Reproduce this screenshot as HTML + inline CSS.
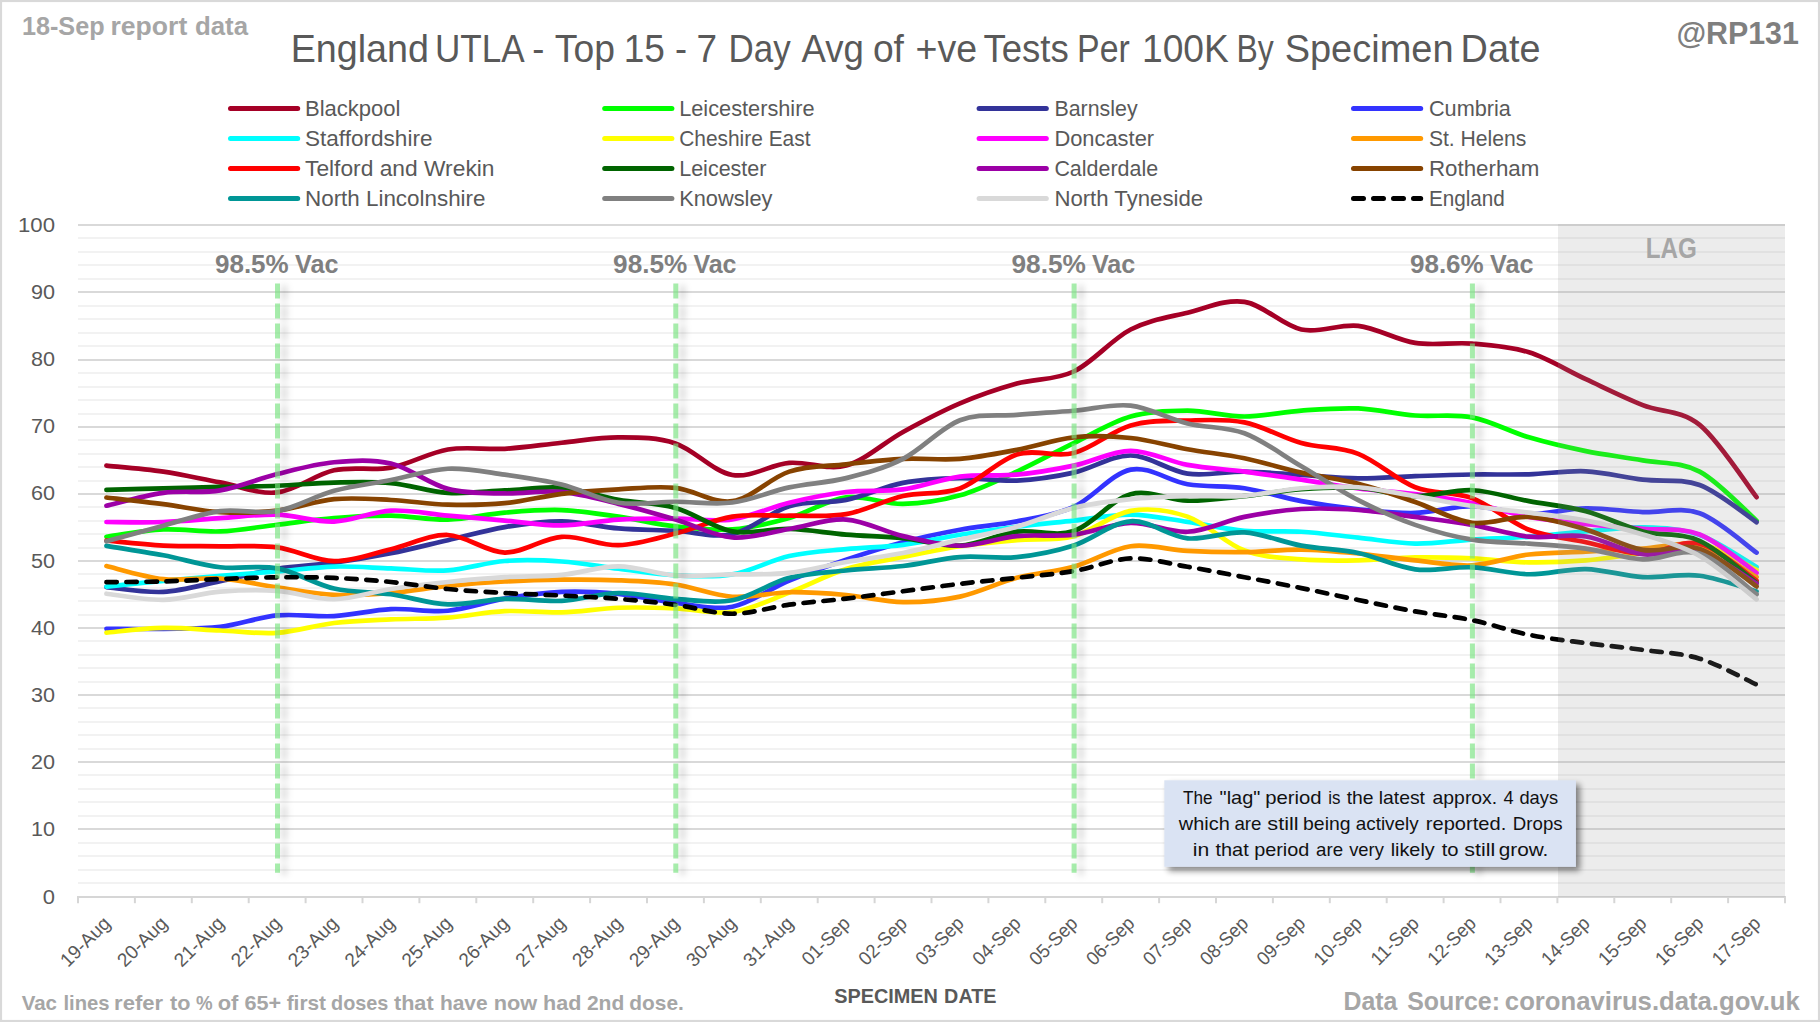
<!DOCTYPE html>
<html lang="en"><head><meta charset="utf-8"><title>England UTLA - Top 15 - 7 Day Avg of +ve Tests Per 100K By Specimen Date</title>
<style>
html,body{margin:0;padding:0;background:#fff;}
body{width:1820px;height:1022px;overflow:hidden;}
svg{display:block;}
text{font-family:"Liberation Sans", Arial, sans-serif;}
.t{fill:#595959;}
.b{font-weight:bold;}
</style></head><body>
<svg width="1820" height="1022" viewBox="0 0 1820 1022">
<defs>
<filter id="sh" x="-10%" y="-20%" width="125%" height="150%"><feGaussianBlur in="SourceAlpha" stdDeviation="3.3"/><feOffset dx="4.2" dy="4.2" result="o"/><feComponentTransfer><feFuncA type="linear" slope="0.48"/></feComponentTransfer><feMerge><feMergeNode/><feMergeNode in="SourceGraphic"/></feMerge></filter>
<filter id="vs" filterUnits="userSpaceOnUse" x="0" y="260" width="1820" height="640"><feGaussianBlur stdDeviation="3.1 3.5"/></filter>
</defs>
<rect x="0" y="0" width="1820" height="1022" fill="#ffffff"/>
<rect x="1" y="1" width="1818" height="1020" fill="none" stroke="#d9d9d9" stroke-width="2.2"/>
<g stroke="#f2f2f2" stroke-width="2">
<line x1="78.0" x2="1785.0" y1="883" y2="883"/>
<line x1="78.0" x2="1785.0" y1="870" y2="870"/>
<line x1="78.0" x2="1785.0" y1="856" y2="856"/>
<line x1="78.0" x2="1785.0" y1="843" y2="843"/>
<line x1="78.0" x2="1785.0" y1="816" y2="816"/>
<line x1="78.0" x2="1785.0" y1="802" y2="802"/>
<line x1="78.0" x2="1785.0" y1="789" y2="789"/>
<line x1="78.0" x2="1785.0" y1="775" y2="775"/>
<line x1="78.0" x2="1785.0" y1="749" y2="749"/>
<line x1="78.0" x2="1785.0" y1="735" y2="735"/>
<line x1="78.0" x2="1785.0" y1="722" y2="722"/>
<line x1="78.0" x2="1785.0" y1="708" y2="708"/>
<line x1="78.0" x2="1785.0" y1="682" y2="682"/>
<line x1="78.0" x2="1785.0" y1="668" y2="668"/>
<line x1="78.0" x2="1785.0" y1="655" y2="655"/>
<line x1="78.0" x2="1785.0" y1="641" y2="641"/>
<line x1="78.0" x2="1785.0" y1="615" y2="615"/>
<line x1="78.0" x2="1785.0" y1="601" y2="601"/>
<line x1="78.0" x2="1785.0" y1="588" y2="588"/>
<line x1="78.0" x2="1785.0" y1="574" y2="574"/>
<line x1="78.0" x2="1785.0" y1="548" y2="548"/>
<line x1="78.0" x2="1785.0" y1="534" y2="534"/>
<line x1="78.0" x2="1785.0" y1="521" y2="521"/>
<line x1="78.0" x2="1785.0" y1="507" y2="507"/>
<line x1="78.0" x2="1785.0" y1="481" y2="481"/>
<line x1="78.0" x2="1785.0" y1="467" y2="467"/>
<line x1="78.0" x2="1785.0" y1="454" y2="454"/>
<line x1="78.0" x2="1785.0" y1="440" y2="440"/>
<line x1="78.0" x2="1785.0" y1="414" y2="414"/>
<line x1="78.0" x2="1785.0" y1="400" y2="400"/>
<line x1="78.0" x2="1785.0" y1="387" y2="387"/>
<line x1="78.0" x2="1785.0" y1="373" y2="373"/>
<line x1="78.0" x2="1785.0" y1="346" y2="346"/>
<line x1="78.0" x2="1785.0" y1="333" y2="333"/>
<line x1="78.0" x2="1785.0" y1="319" y2="319"/>
<line x1="78.0" x2="1785.0" y1="306" y2="306"/>
<line x1="78.0" x2="1785.0" y1="279" y2="279"/>
<line x1="78.0" x2="1785.0" y1="265" y2="265"/>
<line x1="78.0" x2="1785.0" y1="252" y2="252"/>
<line x1="78.0" x2="1785.0" y1="238" y2="238"/>
</g>
<g stroke="#d9d9d9" stroke-width="2">
<line x1="78.0" x2="1785.0" y1="829" y2="829"/>
<line x1="78.0" x2="1785.0" y1="762" y2="762"/>
<line x1="78.0" x2="1785.0" y1="695" y2="695"/>
<line x1="78.0" x2="1785.0" y1="628" y2="628"/>
<line x1="78.0" x2="1785.0" y1="561" y2="561"/>
<line x1="78.0" x2="1785.0" y1="494" y2="494"/>
<line x1="78.0" x2="1785.0" y1="427" y2="427"/>
<line x1="78.0" x2="1785.0" y1="360" y2="360"/>
<line x1="78.0" x2="1785.0" y1="292" y2="292"/>
<line x1="78.0" x2="1785.0" y1="225" y2="225"/>
</g>
<g stroke="#d6d6d6" stroke-width="2">
<line x1="77.0" x2="1786.0" y1="897.00" y2="897.00"/>
<line x1="78.00" x2="78.00" y1="897.00" y2="903.20"/>
<line x1="134.90" x2="134.90" y1="897.00" y2="903.20"/>
<line x1="191.80" x2="191.80" y1="897.00" y2="903.20"/>
<line x1="248.70" x2="248.70" y1="897.00" y2="903.20"/>
<line x1="305.60" x2="305.60" y1="897.00" y2="903.20"/>
<line x1="362.50" x2="362.50" y1="897.00" y2="903.20"/>
<line x1="419.40" x2="419.40" y1="897.00" y2="903.20"/>
<line x1="476.30" x2="476.30" y1="897.00" y2="903.20"/>
<line x1="533.20" x2="533.20" y1="897.00" y2="903.20"/>
<line x1="590.10" x2="590.10" y1="897.00" y2="903.20"/>
<line x1="647.00" x2="647.00" y1="897.00" y2="903.20"/>
<line x1="703.90" x2="703.90" y1="897.00" y2="903.20"/>
<line x1="760.80" x2="760.80" y1="897.00" y2="903.20"/>
<line x1="817.70" x2="817.70" y1="897.00" y2="903.20"/>
<line x1="874.60" x2="874.60" y1="897.00" y2="903.20"/>
<line x1="931.50" x2="931.50" y1="897.00" y2="903.20"/>
<line x1="988.40" x2="988.40" y1="897.00" y2="903.20"/>
<line x1="1045.30" x2="1045.30" y1="897.00" y2="903.20"/>
<line x1="1102.20" x2="1102.20" y1="897.00" y2="903.20"/>
<line x1="1159.10" x2="1159.10" y1="897.00" y2="903.20"/>
<line x1="1216.00" x2="1216.00" y1="897.00" y2="903.20"/>
<line x1="1272.90" x2="1272.90" y1="897.00" y2="903.20"/>
<line x1="1329.80" x2="1329.80" y1="897.00" y2="903.20"/>
<line x1="1386.70" x2="1386.70" y1="897.00" y2="903.20"/>
<line x1="1443.60" x2="1443.60" y1="897.00" y2="903.20"/>
<line x1="1500.50" x2="1500.50" y1="897.00" y2="903.20"/>
<line x1="1557.40" x2="1557.40" y1="897.00" y2="903.20"/>
<line x1="1614.30" x2="1614.30" y1="897.00" y2="903.20"/>
<line x1="1671.20" x2="1671.20" y1="897.00" y2="903.20"/>
<line x1="1728.10" x2="1728.10" y1="897.00" y2="903.20"/>
<line x1="1785.00" x2="1785.00" y1="897.00" y2="903.20"/>
</g>
<g class="t" font-size="20" text-anchor="end">
<text x="55.0" y="903.5" textLength="12.2" lengthAdjust="spacingAndGlyphs">0</text>
<text x="55.0" y="836.3" textLength="24.0" lengthAdjust="spacingAndGlyphs">10</text>
<text x="55.0" y="769.1" textLength="24.0" lengthAdjust="spacingAndGlyphs">20</text>
<text x="55.0" y="701.9" textLength="24.0" lengthAdjust="spacingAndGlyphs">30</text>
<text x="55.0" y="634.7" textLength="24.0" lengthAdjust="spacingAndGlyphs">40</text>
<text x="55.0" y="567.5" textLength="24.0" lengthAdjust="spacingAndGlyphs">50</text>
<text x="55.0" y="500.3" textLength="24.0" lengthAdjust="spacingAndGlyphs">60</text>
<text x="55.0" y="433.1" textLength="24.0" lengthAdjust="spacingAndGlyphs">70</text>
<text x="55.0" y="365.9" textLength="24.0" lengthAdjust="spacingAndGlyphs">80</text>
<text x="55.0" y="298.7" textLength="24.0" lengthAdjust="spacingAndGlyphs">90</text>
<text x="55.0" y="231.5" textLength="37.0" lengthAdjust="spacingAndGlyphs">100</text>
</g>
<g class="t" font-size="19.2" text-anchor="end">
<text transform="translate(111.5 924.6) rotate(-45)" textLength="61.5" lengthAdjust="spacingAndGlyphs">19-Aug</text>
<text transform="translate(168.4 924.6) rotate(-45)" textLength="61.5" lengthAdjust="spacingAndGlyphs">20-Aug</text>
<text transform="translate(225.3 924.6) rotate(-45)" textLength="61.5" lengthAdjust="spacingAndGlyphs">21-Aug</text>
<text transform="translate(282.2 924.6) rotate(-45)" textLength="61.5" lengthAdjust="spacingAndGlyphs">22-Aug</text>
<text transform="translate(339.2 924.6) rotate(-45)" textLength="61.5" lengthAdjust="spacingAndGlyphs">23-Aug</text>
<text transform="translate(396.1 924.6) rotate(-45)" textLength="61.5" lengthAdjust="spacingAndGlyphs">24-Aug</text>
<text transform="translate(452.9 924.6) rotate(-45)" textLength="61.5" lengthAdjust="spacingAndGlyphs">25-Aug</text>
<text transform="translate(509.9 924.6) rotate(-45)" textLength="61.5" lengthAdjust="spacingAndGlyphs">26-Aug</text>
<text transform="translate(566.8 924.6) rotate(-45)" textLength="61.5" lengthAdjust="spacingAndGlyphs">27-Aug</text>
<text transform="translate(623.6 924.6) rotate(-45)" textLength="61.5" lengthAdjust="spacingAndGlyphs">28-Aug</text>
<text transform="translate(680.5 924.6) rotate(-45)" textLength="61.5" lengthAdjust="spacingAndGlyphs">29-Aug</text>
<text transform="translate(737.5 924.6) rotate(-45)" textLength="61.5" lengthAdjust="spacingAndGlyphs">30-Aug</text>
<text transform="translate(794.4 924.6) rotate(-45)" textLength="61.5" lengthAdjust="spacingAndGlyphs">31-Aug</text>
<text transform="translate(851.2 924.6) rotate(-45)" textLength="59.1" lengthAdjust="spacingAndGlyphs">01-Sep</text>
<text transform="translate(908.1 924.6) rotate(-45)" textLength="59.1" lengthAdjust="spacingAndGlyphs">02-Sep</text>
<text transform="translate(965.0 924.6) rotate(-45)" textLength="59.1" lengthAdjust="spacingAndGlyphs">03-Sep</text>
<text transform="translate(1022.0 924.6) rotate(-45)" textLength="59.1" lengthAdjust="spacingAndGlyphs">04-Sep</text>
<text transform="translate(1078.8 924.6) rotate(-45)" textLength="59.1" lengthAdjust="spacingAndGlyphs">05-Sep</text>
<text transform="translate(1135.7 924.6) rotate(-45)" textLength="59.1" lengthAdjust="spacingAndGlyphs">06-Sep</text>
<text transform="translate(1192.6 924.6) rotate(-45)" textLength="59.1" lengthAdjust="spacingAndGlyphs">07-Sep</text>
<text transform="translate(1249.5 924.6) rotate(-45)" textLength="59.1" lengthAdjust="spacingAndGlyphs">08-Sep</text>
<text transform="translate(1306.4 924.6) rotate(-45)" textLength="59.1" lengthAdjust="spacingAndGlyphs">09-Sep</text>
<text transform="translate(1363.3 924.6) rotate(-45)" textLength="59.1" lengthAdjust="spacingAndGlyphs">10-Sep</text>
<text transform="translate(1420.2 924.6) rotate(-45)" textLength="59.1" lengthAdjust="spacingAndGlyphs">11-Sep</text>
<text transform="translate(1477.1 924.6) rotate(-45)" textLength="59.1" lengthAdjust="spacingAndGlyphs">12-Sep</text>
<text transform="translate(1534.0 924.6) rotate(-45)" textLength="59.1" lengthAdjust="spacingAndGlyphs">13-Sep</text>
<text transform="translate(1590.9 924.6) rotate(-45)" textLength="59.1" lengthAdjust="spacingAndGlyphs">14-Sep</text>
<text transform="translate(1647.8 924.6) rotate(-45)" textLength="59.1" lengthAdjust="spacingAndGlyphs">15-Sep</text>
<text transform="translate(1704.7 924.6) rotate(-45)" textLength="59.1" lengthAdjust="spacingAndGlyphs">16-Sep</text>
<text transform="translate(1761.6 924.6) rotate(-45)" textLength="59.1" lengthAdjust="spacingAndGlyphs">17-Sep</text>
</g>
<g fill="none" stroke-width="4.7" stroke-linecap="round" stroke-linejoin="round">
<path stroke="#a50026" d="M106.45 465.58C115.93 466.58 144.38 468.82 163.35 471.62C182.32 474.42 201.28 478.90 220.25 482.38C239.22 485.85 258.18 494.47 277.15 492.46C296.12 490.44 315.08 474.42 334.05 470.28C353.02 466.14 371.98 471.06 390.95 467.59C409.92 464.12 428.88 452.58 447.85 449.45C466.82 446.31 485.78 449.90 504.75 448.78C523.72 447.66 542.68 444.63 561.65 442.73C580.62 440.82 599.58 437.24 618.55 437.35C637.52 437.46 656.48 437.13 675.45 443.40C694.42 449.67 713.38 471.74 732.35 474.98C751.32 478.23 770.28 464.46 789.25 462.89C808.22 461.32 827.18 470.73 846.15 465.58C865.12 460.42 884.08 442.34 903.05 431.98C922.02 421.62 940.98 411.48 959.95 403.42C978.92 395.35 997.88 388.91 1016.85 383.59C1035.82 378.27 1054.78 380.51 1073.75 371.50C1092.72 362.48 1111.68 339.30 1130.65 329.50C1149.62 319.70 1168.58 317.31 1187.55 312.70C1206.52 308.08 1225.48 299.01 1244.45 301.81C1263.42 304.61 1282.38 325.50 1301.35 329.50C1320.32 333.49 1339.28 323.56 1358.25 325.80C1377.22 328.04 1396.18 339.97 1415.15 342.94C1434.12 345.90 1453.08 342.04 1472.05 343.61C1491.02 345.18 1509.98 346.41 1528.95 352.34C1547.92 358.28 1566.88 370.43 1585.85 379.22C1604.82 388.02 1623.78 397.49 1642.75 405.10C1661.72 412.70 1680.68 409.51 1699.65 424.85C1718.62 440.20 1747.07 485.11 1756.55 497.16"/>
<path stroke="#00ff00" d="M106.45 536.81C115.93 535.58 144.38 530.31 163.35 529.42C182.32 528.52 201.28 532.22 220.25 531.43C239.22 530.65 258.18 526.95 277.15 524.71C296.12 522.47 315.08 519.52 334.05 517.99C353.02 516.47 371.98 515.32 390.95 515.57C409.92 515.83 428.88 520.03 447.85 519.54C466.82 519.04 485.78 514.20 504.75 512.62C523.72 511.04 542.68 509.39 561.65 510.06C580.62 510.73 599.58 513.92 618.55 516.65C637.52 519.38 656.48 524.33 675.45 526.46C694.42 528.59 713.38 530.83 732.35 529.42C751.32 528.00 770.28 523.33 789.25 517.99C808.22 512.65 827.18 499.71 846.15 497.36C865.12 495.01 884.08 504.22 903.05 503.88C922.02 503.54 940.98 500.72 959.95 495.35C978.92 489.97 997.88 480.34 1016.85 471.62C1035.82 462.91 1054.78 452.25 1073.75 443.06C1092.72 433.88 1111.68 421.93 1130.65 416.52C1149.62 411.11 1168.58 410.61 1187.55 410.61C1206.52 410.61 1225.48 416.52 1244.45 416.52C1263.42 416.52 1282.38 411.95 1301.35 410.61C1320.32 409.26 1339.28 407.64 1358.25 408.46C1377.22 409.27 1396.18 414.03 1415.15 415.51C1434.12 416.99 1453.08 413.69 1472.05 417.33C1491.02 420.97 1509.98 431.72 1528.95 437.35C1547.92 442.99 1566.88 447.29 1585.85 451.13C1604.82 454.97 1623.78 456.99 1642.75 460.40C1661.72 463.82 1680.68 461.58 1699.65 471.62C1718.62 481.67 1747.07 512.50 1756.55 520.68"/>
<path stroke="#333399" d="M106.45 587.21C115.93 587.99 144.38 592.92 163.35 591.91C182.32 590.90 201.28 585.02 220.25 581.16C239.22 577.30 258.18 571.81 277.15 568.73C296.12 565.65 315.08 565.26 334.05 562.68C353.02 560.10 371.98 557.02 390.95 553.27C409.92 549.52 428.88 544.54 447.85 540.17C466.82 535.80 485.78 530.20 504.75 527.06C523.72 523.93 542.68 521.13 561.65 521.35C580.62 521.58 599.58 526.84 618.55 528.41C637.52 529.98 656.48 529.81 675.45 530.76C694.42 531.71 713.38 538.21 732.35 534.12C751.32 530.03 770.28 511.93 789.25 506.23C808.22 500.53 827.18 503.80 846.15 499.92C865.12 496.03 884.08 486.54 903.05 482.91C922.02 479.28 940.98 478.53 959.95 478.14C978.92 477.75 997.88 481.48 1016.85 480.56C1035.82 479.64 1054.78 476.81 1073.75 472.63C1092.72 468.45 1111.68 455.33 1130.65 455.50C1149.62 455.66 1168.58 470.95 1187.55 473.64C1206.52 476.33 1225.48 471.40 1244.45 471.62C1263.42 471.85 1282.38 473.86 1301.35 474.98C1320.32 476.10 1339.28 478.15 1358.25 478.34C1377.22 478.53 1396.18 476.76 1415.15 476.13C1434.12 475.49 1453.08 474.82 1472.05 474.51C1491.02 474.21 1509.98 474.85 1528.95 474.31C1547.92 473.77 1566.88 470.39 1585.85 471.29C1604.82 472.18 1623.78 477.39 1642.75 479.69C1661.72 481.98 1680.68 477.99 1699.65 485.06C1718.62 492.14 1747.07 515.98 1756.55 522.16"/>
<path stroke="#3333ff" d="M106.45 628.87C115.93 628.87 144.38 629.21 163.35 628.87C182.32 628.54 201.28 629.10 220.25 626.86C239.22 624.62 258.18 617.22 277.15 615.43C296.12 613.64 315.08 617.16 334.05 616.10C353.02 615.05 371.98 610.01 390.95 609.12C409.92 608.22 428.88 612.48 447.85 610.73C466.82 608.98 485.78 601.77 504.75 598.63C523.72 595.50 542.68 592.70 561.65 591.91C580.62 591.13 599.58 592.10 618.55 593.93C637.52 595.75 656.48 600.74 675.45 602.87C694.42 604.99 713.38 610.43 732.35 606.70C751.32 602.97 770.28 588.33 789.25 580.49C808.22 572.65 827.18 566.04 846.15 559.66C865.12 553.27 884.08 547.17 903.05 542.18C922.02 537.20 940.98 533.22 959.95 529.75C978.92 526.28 997.88 525.16 1016.85 521.35C1035.82 517.54 1054.78 515.53 1073.75 506.90C1092.72 498.28 1111.68 473.38 1130.65 469.61C1149.62 465.83 1168.58 481.16 1187.55 484.26C1206.52 487.36 1225.48 485.41 1244.45 488.22C1263.42 491.03 1282.38 497.62 1301.35 501.12C1320.32 504.63 1339.28 507.28 1358.25 509.26C1377.22 511.23 1396.18 513.49 1415.15 512.95C1434.12 512.41 1453.08 505.86 1472.05 506.03C1491.02 506.20 1509.98 513.59 1528.95 513.96C1547.92 514.33 1566.88 508.56 1585.85 508.25C1604.82 507.93 1623.78 511.24 1642.75 512.08C1661.72 512.92 1680.68 506.53 1699.65 513.29C1718.62 520.04 1747.07 546.05 1756.55 552.60"/>
<path stroke="#00ffff" d="M106.45 586.54C115.93 585.58 144.38 582.62 163.35 580.82C182.32 579.03 201.28 577.35 220.25 575.78C239.22 574.22 258.18 572.95 277.15 571.42C296.12 569.88 315.08 567.08 334.05 566.58C353.02 566.07 371.98 567.75 390.95 568.39C409.92 569.03 428.88 571.64 447.85 570.41C466.82 569.18 485.78 562.49 504.75 561.00C523.72 559.51 542.68 560.18 561.65 561.47C580.62 562.76 599.58 566.42 618.55 568.73C637.52 571.04 656.48 574.36 675.45 575.31C694.42 576.27 713.38 577.65 732.35 574.44C751.32 571.23 770.28 560.25 789.25 556.03C808.22 551.80 827.18 550.96 846.15 549.11C865.12 547.25 884.08 547.26 903.05 544.87C922.02 542.49 940.98 537.82 959.95 534.79C978.92 531.77 997.88 529.08 1016.85 526.73C1035.82 524.38 1054.78 522.71 1073.75 520.68C1092.72 518.65 1111.68 514.36 1130.65 514.56C1149.62 514.77 1168.58 519.19 1187.55 521.89C1206.52 524.59 1225.48 529.11 1244.45 530.76C1263.42 532.41 1282.38 530.61 1301.35 531.77C1320.32 532.92 1339.28 535.71 1358.25 537.68C1377.22 539.65 1396.18 543.27 1415.15 543.60C1434.12 543.92 1453.08 540.76 1472.05 539.63C1491.02 538.50 1509.98 538.17 1528.95 536.81C1547.92 535.44 1566.88 533.00 1585.85 531.43C1604.82 529.86 1623.78 526.81 1642.75 527.40C1661.72 527.99 1680.68 528.37 1699.65 534.99C1718.62 541.61 1747.07 561.76 1756.55 567.12"/>
<path stroke="#ffff00" d="M106.45 632.57C115.93 631.80 144.38 628.28 163.35 627.93C182.32 627.58 201.28 629.67 220.25 630.48C239.22 631.30 258.18 634.09 277.15 632.84C296.12 631.58 315.08 625.20 334.05 622.96C353.02 620.72 371.98 620.28 390.95 619.40C409.92 618.51 428.88 619.03 447.85 617.65C466.82 616.27 485.78 612.02 504.75 611.13C523.72 610.25 542.68 612.90 561.65 612.34C580.62 611.78 599.58 608.43 618.55 607.77C637.52 607.11 656.48 607.66 675.45 608.38C694.42 609.09 713.38 614.70 732.35 612.07C751.32 609.44 770.28 599.75 789.25 592.58C808.22 585.42 827.18 574.99 846.15 569.06C865.12 563.14 884.08 560.84 903.05 557.04C922.02 553.23 940.98 549.03 959.95 546.22C978.92 543.40 997.88 541.85 1016.85 540.17C1035.82 538.49 1054.78 541.01 1073.75 536.14C1092.72 531.26 1111.68 514.18 1130.65 510.94C1149.62 507.69 1168.58 510.05 1187.55 516.65C1206.52 523.24 1225.48 543.38 1244.45 550.52C1263.42 557.65 1282.38 557.81 1301.35 559.45C1320.32 561.10 1339.28 560.73 1358.25 560.40C1377.22 560.06 1396.18 557.76 1415.15 557.44C1434.12 557.11 1453.08 557.62 1472.05 558.45C1491.02 559.28 1509.98 562.10 1528.95 562.41C1547.92 562.72 1566.88 561.91 1585.85 560.33C1604.82 558.75 1623.78 555.74 1642.75 552.94C1661.72 550.14 1680.68 540.68 1699.65 543.53C1718.62 546.37 1747.07 565.59 1756.55 570.00"/>
<path stroke="#ff00ff" d="M106.45 522.02C115.93 522.02 144.38 522.66 163.35 522.02C182.32 521.39 201.28 519.43 220.25 518.19C239.22 516.96 258.18 514.07 277.15 514.63C296.12 515.19 315.08 522.23 334.05 521.55C353.02 520.88 371.98 511.60 390.95 510.60C409.92 509.60 428.88 513.92 447.85 515.57C466.82 517.23 485.78 518.90 504.75 520.55C523.72 522.19 542.68 525.62 561.65 525.45C580.62 525.28 599.58 520.67 618.55 519.54C637.52 518.41 656.48 518.70 675.45 518.66C694.42 518.63 713.38 522.00 732.35 519.34C751.32 516.67 770.28 507.23 789.25 502.67C808.22 498.11 827.18 494.19 846.15 491.99C865.12 489.78 884.08 492.00 903.05 489.43C922.02 486.87 940.98 479.07 959.95 476.60C978.92 474.12 997.88 476.42 1016.85 474.58C1035.82 472.74 1054.78 469.54 1073.75 465.58C1092.72 461.61 1111.68 450.90 1130.65 450.79C1149.62 450.68 1168.58 461.43 1187.55 464.90C1206.52 468.38 1225.48 469.16 1244.45 471.62C1263.42 474.09 1282.38 476.89 1301.35 479.69C1320.32 482.49 1339.28 486.00 1358.25 488.42C1377.22 490.84 1396.18 491.76 1415.15 494.20C1434.12 496.64 1453.08 499.29 1472.05 503.07C1491.02 506.86 1509.98 513.42 1528.95 516.92C1547.92 520.41 1566.88 522.07 1585.85 524.04C1604.82 526.01 1623.78 527.01 1642.75 528.74C1661.72 530.48 1680.68 527.11 1699.65 534.46C1718.62 541.80 1747.07 566.43 1756.55 572.83"/>
<path stroke="#ff9900" d="M106.45 566.04C115.93 568.22 144.38 577.07 163.35 579.14C182.32 581.22 201.28 577.11 220.25 578.47C239.22 579.84 258.18 584.61 277.15 587.34C296.12 590.08 315.08 593.94 334.05 594.87C353.02 595.80 371.98 594.40 390.95 592.92C409.92 591.44 428.88 587.90 447.85 586.00C466.82 584.09 485.78 582.55 504.75 581.50C523.72 580.44 542.68 579.88 561.65 579.68C580.62 579.48 599.58 579.48 618.55 580.29C637.52 581.09 656.48 581.78 675.45 584.52C694.42 587.26 713.38 595.46 732.35 596.75C751.32 598.04 770.28 592.54 789.25 592.25C808.22 591.96 827.18 593.36 846.15 595.00C865.12 596.65 884.08 601.86 903.05 602.13C922.02 602.40 940.98 600.67 959.95 596.62C978.92 592.56 997.88 582.78 1016.85 577.80C1035.82 572.82 1054.78 571.98 1073.75 566.71C1092.72 561.45 1111.68 548.85 1130.65 546.22C1149.62 543.58 1168.58 549.93 1187.55 550.92C1206.52 551.91 1225.48 552.35 1244.45 552.13C1263.42 551.91 1282.38 549.35 1301.35 549.58C1320.32 549.80 1339.28 551.67 1358.25 553.47C1377.22 555.28 1396.18 558.41 1415.15 560.40C1434.12 562.38 1453.08 566.35 1472.05 565.37C1491.02 564.38 1509.98 556.78 1528.95 554.48C1547.92 552.19 1566.88 552.58 1585.85 551.59C1604.82 550.61 1623.78 549.58 1642.75 548.57C1661.72 547.56 1680.68 540.78 1699.65 545.54C1718.62 550.30 1747.07 571.86 1756.55 577.13"/>
<path stroke="#ff0000" d="M106.45 540.50C115.93 541.34 144.38 544.57 163.35 545.54C182.32 546.52 201.28 546.05 220.25 546.35C239.22 546.65 258.18 544.88 277.15 547.36C296.12 549.83 315.08 560.88 334.05 561.20C353.02 561.53 371.98 553.68 390.95 549.31C409.92 544.94 428.88 534.46 447.85 534.99C466.82 535.53 485.78 552.23 504.75 552.53C523.72 552.84 542.68 538.03 561.65 536.81C580.62 535.59 599.58 545.75 618.55 545.21C637.52 544.67 656.48 538.34 675.45 533.58C694.42 528.82 713.38 519.63 732.35 516.65C751.32 513.67 770.28 516.12 789.25 515.71C808.22 515.29 827.18 517.45 846.15 514.16C865.12 510.87 884.08 500.24 903.05 495.95C922.02 491.66 940.98 495.35 959.95 488.42C978.92 481.50 997.88 460.32 1016.85 454.42C1035.82 448.52 1054.78 457.85 1073.75 453.01C1092.72 448.17 1111.68 430.81 1130.65 425.39C1149.62 419.97 1168.58 420.98 1187.55 420.48C1206.52 419.99 1225.48 418.67 1244.45 422.43C1263.42 426.20 1282.38 437.83 1301.35 443.06C1320.32 448.29 1339.28 446.45 1358.25 453.82C1377.22 461.19 1396.18 479.90 1415.15 487.28C1434.12 494.66 1453.08 491.02 1472.05 498.10C1491.02 505.18 1509.98 522.40 1528.95 529.75C1547.92 537.10 1566.88 538.21 1585.85 542.18C1604.82 546.16 1623.78 553.37 1642.75 553.61C1661.72 553.84 1680.68 539.08 1699.65 543.60C1718.62 548.11 1747.07 574.51 1756.55 580.69"/>
<path stroke="#006400" d="M106.45 489.90C115.93 489.63 144.38 488.78 163.35 488.29C182.32 487.80 201.28 487.37 220.25 486.95C239.22 486.52 258.18 486.46 277.15 485.74C296.12 485.01 315.08 483.03 334.05 482.58C353.02 482.13 371.98 481.33 390.95 483.05C409.92 484.76 428.88 491.63 447.85 492.86C466.82 494.09 485.78 491.29 504.75 490.44C523.72 489.59 542.68 486.18 561.65 487.75C580.62 489.32 599.58 496.49 618.55 499.85C637.52 503.21 656.48 502.65 675.45 507.91C694.42 513.18 713.38 527.93 732.35 531.43C751.32 534.94 770.28 528.42 789.25 528.95C808.22 529.47 827.18 533.06 846.15 534.59C865.12 536.12 884.08 536.33 903.05 538.15C922.02 539.98 940.98 546.63 959.95 545.54C978.92 544.46 997.88 534.04 1016.85 531.63C1035.82 529.23 1054.78 537.33 1073.75 531.10C1092.72 524.86 1111.68 499.27 1130.65 494.20C1149.62 489.14 1168.58 500.40 1187.55 500.72C1206.52 501.05 1225.48 498.09 1244.45 496.15C1263.42 494.21 1282.38 490.50 1301.35 489.10C1320.32 487.70 1339.28 486.58 1358.25 487.75C1377.22 488.93 1396.18 495.74 1415.15 496.15C1434.12 496.57 1453.08 489.41 1472.05 490.24C1491.02 491.07 1509.98 497.62 1528.95 501.12C1547.92 504.63 1566.88 506.22 1585.85 511.27C1604.82 516.32 1623.78 526.50 1642.75 531.43C1661.72 536.36 1680.68 532.27 1699.65 540.84C1718.62 549.41 1747.07 575.84 1756.55 582.84"/>
<path stroke="#9c00a6" d="M106.45 505.69C115.93 503.56 144.38 495.42 163.35 492.86C182.32 490.29 201.28 493.44 220.25 490.31C239.22 487.17 258.18 478.72 277.15 474.04C296.12 469.36 315.08 463.96 334.05 462.22C353.02 460.47 371.98 459.11 390.95 463.56C409.92 468.01 428.88 483.91 447.85 488.89C466.82 493.88 485.78 492.97 504.75 493.46C523.72 493.96 542.68 490.12 561.65 491.85C580.62 493.59 599.58 499.27 618.55 503.88C637.52 508.49 656.48 513.94 675.45 519.54C694.42 525.14 713.38 535.91 732.35 537.48C751.32 539.05 770.28 531.94 789.25 528.95C808.22 525.96 827.18 518.34 846.15 519.54C865.12 520.74 884.08 531.77 903.05 536.14C922.02 540.50 940.98 545.75 959.95 545.75C978.92 545.75 997.88 537.96 1016.85 536.14C1035.82 534.31 1054.78 537.01 1073.75 534.79C1092.72 532.57 1111.68 523.33 1130.65 522.83C1149.62 522.33 1168.58 532.75 1187.55 531.77C1206.52 530.78 1225.48 520.71 1244.45 516.92C1263.42 513.12 1282.38 510.14 1301.35 508.99C1320.32 507.83 1339.28 508.67 1358.25 510.00C1377.22 511.32 1396.18 514.44 1415.15 516.92C1434.12 519.39 1453.08 521.55 1472.05 524.85C1491.02 528.14 1509.98 534.72 1528.95 536.67C1547.92 538.62 1566.88 533.60 1585.85 536.54C1604.82 539.47 1623.78 551.88 1642.75 554.28C1661.72 556.68 1680.68 546.04 1699.65 550.92C1718.62 555.80 1747.07 578.14 1756.55 583.58"/>
<path stroke="#874300" d="M106.45 497.50C115.93 498.60 144.38 501.70 163.35 504.15C182.32 506.60 201.28 511.14 220.25 512.21C239.22 513.29 258.18 512.77 277.15 510.60C296.12 508.43 315.08 500.95 334.05 499.18C353.02 497.41 371.98 499.06 390.95 499.98C409.92 500.90 428.88 504.15 447.85 504.69C466.82 505.22 485.78 505.02 504.75 503.21C523.72 501.39 542.68 496.12 561.65 493.80C580.62 491.48 599.58 490.28 618.55 489.30C637.52 488.31 656.48 485.90 675.45 487.89C694.42 489.87 713.38 503.90 732.35 501.19C751.32 498.48 770.28 477.77 789.25 471.62C808.22 465.48 827.18 466.43 846.15 464.30C865.12 462.17 884.08 459.76 903.05 458.86C922.02 457.95 940.98 460.36 959.95 458.86C978.92 457.36 997.88 453.44 1016.85 449.85C1035.82 446.27 1054.78 439.32 1073.75 437.35C1092.72 435.38 1111.68 436.04 1130.65 438.02C1149.62 440.01 1168.58 445.86 1187.55 449.25C1206.52 452.63 1225.48 454.42 1244.45 458.32C1263.42 462.22 1282.38 468.40 1301.35 472.63C1320.32 476.87 1339.28 478.81 1358.25 483.72C1377.22 488.63 1396.18 495.55 1415.15 502.07C1434.12 508.58 1453.08 520.36 1472.05 522.83C1491.02 525.31 1509.98 515.82 1528.95 516.92C1547.92 518.01 1566.88 523.92 1585.85 529.42C1604.82 534.92 1623.78 546.66 1642.75 549.91C1661.72 553.16 1680.68 542.82 1699.65 548.90C1718.62 554.99 1747.07 580.15 1756.55 586.40"/>
<path stroke="#009696" d="M106.45 545.81C115.93 547.39 144.38 551.72 163.35 555.29C182.32 558.86 201.28 565.07 220.25 567.25C239.22 569.43 258.18 564.84 277.15 568.39C296.12 571.94 315.08 584.24 334.05 588.55C353.02 592.86 371.98 591.62 390.95 594.26C409.92 596.91 428.88 603.64 447.85 604.41C466.82 605.18 485.78 599.49 504.75 598.90C523.72 598.31 542.68 601.84 561.65 600.85C580.62 599.86 599.58 593.31 618.55 592.99C637.52 592.66 656.48 597.68 675.45 598.90C694.42 600.12 713.38 603.83 732.35 600.31C751.32 596.80 770.28 582.77 789.25 577.80C808.22 572.83 827.18 572.45 846.15 570.48C865.12 568.50 884.08 568.21 903.05 565.97C922.02 563.73 940.98 558.52 959.95 557.04C978.92 555.55 997.88 558.97 1016.85 557.04C1035.82 555.10 1054.78 551.37 1073.75 545.41C1092.72 539.45 1111.68 522.47 1130.65 521.28C1149.62 520.10 1168.58 536.44 1187.55 538.29C1206.52 540.13 1225.48 531.15 1244.45 532.37C1263.42 533.59 1282.38 542.18 1301.35 545.61C1320.32 549.04 1339.28 548.98 1358.25 552.94C1377.22 556.89 1396.18 566.94 1415.15 569.33C1434.12 571.73 1453.08 566.50 1472.05 567.32C1491.02 568.13 1509.98 573.95 1528.95 574.24C1547.92 574.53 1566.88 568.58 1585.85 569.06C1604.82 569.55 1623.78 576.01 1642.75 577.13C1661.72 578.25 1680.68 573.40 1699.65 575.78C1718.62 578.17 1747.07 588.83 1756.55 591.44"/>
<path stroke="#808080" d="M106.45 541.31C115.93 538.70 144.38 530.69 163.35 525.65C182.32 520.61 201.28 513.50 220.25 511.07C239.22 508.64 258.18 514.44 277.15 511.07C296.12 507.70 315.08 496.02 334.05 490.84C353.02 485.67 371.98 483.71 390.95 480.02C409.92 476.34 428.88 469.63 447.85 468.73C466.82 467.84 485.78 472.02 504.75 474.65C523.72 477.28 542.68 479.84 561.65 484.53C580.62 489.21 599.58 499.87 618.55 502.74C637.52 505.60 656.48 501.76 675.45 501.73C694.42 501.70 713.38 504.92 732.35 502.54C751.32 500.15 770.28 491.48 789.25 487.42C808.22 483.35 827.18 482.90 846.15 478.14C865.12 473.38 884.08 468.51 903.05 458.86C922.02 449.20 940.98 427.55 959.95 420.22C978.92 412.88 997.88 416.42 1016.85 414.84C1035.82 413.26 1054.78 412.28 1073.75 410.74C1092.72 409.21 1111.68 403.52 1130.65 405.63C1149.62 407.75 1168.58 418.83 1187.55 423.44C1206.52 428.06 1225.48 426.19 1244.45 433.32C1263.42 440.45 1282.38 455.10 1301.35 466.25C1320.32 477.39 1339.28 490.42 1358.25 500.18C1377.22 509.95 1396.18 518.27 1415.15 524.85C1434.12 531.42 1453.08 536.51 1472.05 539.63C1491.02 542.76 1509.98 542.11 1528.95 543.60C1547.92 545.08 1566.88 545.95 1585.85 548.57C1604.82 551.19 1623.78 558.48 1642.75 559.32C1661.72 560.16 1680.68 547.78 1699.65 553.61C1718.62 559.43 1747.07 587.49 1756.55 594.26"/>
<path stroke="#d9d9d9" d="M106.45 593.73C115.93 594.75 144.38 600.18 163.35 599.84C182.32 599.51 201.28 593.20 220.25 591.71C239.22 590.22 258.18 589.65 277.15 590.90C296.12 592.16 315.08 599.56 334.05 599.24C353.02 598.91 371.98 591.83 390.95 588.96C409.92 586.08 428.88 583.94 447.85 581.97C466.82 580.00 485.78 578.32 504.75 577.13C523.72 575.94 542.68 576.64 561.65 574.84C580.62 573.05 599.58 566.28 618.55 566.38C637.52 566.48 656.48 574.10 675.45 575.45C694.42 576.79 713.38 574.87 732.35 574.44C751.32 574.01 770.28 574.97 789.25 572.89C808.22 570.82 827.18 565.33 846.15 562.01C865.12 558.68 884.08 556.63 903.05 552.94C922.02 549.24 940.98 544.20 959.95 539.83C978.92 535.46 997.88 532.05 1016.85 526.73C1035.82 521.41 1054.78 512.50 1073.75 507.91C1092.72 503.32 1111.68 501.14 1130.65 499.18C1149.62 497.22 1168.58 496.71 1187.55 496.15C1206.52 495.59 1225.48 497.14 1244.45 495.82C1263.42 494.49 1282.38 489.64 1301.35 488.22C1320.32 486.80 1339.28 485.96 1358.25 487.28C1377.22 488.60 1396.18 493.03 1415.15 496.15C1434.12 499.28 1453.08 503.29 1472.05 506.03C1491.02 508.77 1509.98 510.17 1528.95 512.62C1547.92 515.06 1566.88 517.04 1585.85 520.68C1604.82 524.32 1623.78 528.58 1642.75 534.46C1661.72 540.34 1680.68 545.15 1699.65 555.96C1718.62 566.77 1747.07 592.08 1756.55 599.30"/>
<path stroke="#000000" stroke-dasharray="10.3 9.7" d="M106.45 582.17C115.93 582.04 144.38 581.96 163.35 581.43C182.32 580.90 201.28 579.69 220.25 579.01C239.22 578.33 258.18 577.51 277.15 577.33C296.12 577.15 315.08 577.16 334.05 577.93C353.02 578.71 371.98 580.12 390.95 581.97C409.92 583.81 428.88 587.19 447.85 589.02C466.82 590.86 485.78 591.90 504.75 592.99C523.72 594.07 542.68 594.56 561.65 595.54C580.62 596.53 599.58 597.36 618.55 598.90C637.52 600.45 656.48 602.34 675.45 604.81C694.42 607.29 713.38 613.77 732.35 613.75C751.32 613.73 770.28 607.20 789.25 604.68C808.22 602.16 827.18 600.87 846.15 598.63C865.12 596.39 884.08 593.70 903.05 591.24C922.02 588.78 940.98 586.09 959.95 583.85C978.92 581.61 997.88 579.93 1016.85 577.80C1035.82 575.67 1054.78 574.31 1073.75 571.08C1092.72 567.85 1111.68 559.16 1130.65 558.45C1149.62 557.73 1168.58 563.65 1187.55 566.78C1206.52 569.90 1225.48 573.64 1244.45 577.20C1263.42 580.75 1282.38 584.28 1301.35 588.08C1320.32 591.88 1339.28 596.09 1358.25 599.98C1377.22 603.86 1396.18 608.04 1415.15 611.40C1434.12 614.76 1453.08 616.24 1472.05 620.14C1491.02 624.03 1509.98 630.96 1528.95 634.79C1547.92 638.62 1566.88 640.60 1585.85 643.12C1604.82 645.64 1623.78 647.32 1642.75 649.91C1661.72 652.49 1680.68 652.86 1699.65 658.64C1718.62 664.42 1747.07 680.26 1756.55 684.58"/>
</g>
<g filter="url(#vs)" stroke="#000" stroke-opacity="0.15" stroke-width="5.5" stroke-dasharray="15 5">
<line x1="284.3" x2="284.3" y1="285.5" y2="874.7"/>
<line x1="682.6" x2="682.6" y1="285.5" y2="874.7"/>
<line x1="1080.9" x2="1080.9" y1="285.5" y2="874.7"/>
<line x1="1479.2" x2="1479.2" y1="285.5" y2="874.7"/>
</g>
<line x1="277.5" x2="277.5" y1="283.5" y2="872.7" stroke="#78e480" stroke-opacity="0.65" stroke-width="5" stroke-dasharray="15 5"/>
<line x1="675.8" x2="675.8" y1="283.5" y2="872.7" stroke="#78e480" stroke-opacity="0.65" stroke-width="5" stroke-dasharray="15 5"/>
<line x1="1074.1" x2="1074.1" y1="283.5" y2="872.7" stroke="#78e480" stroke-opacity="0.65" stroke-width="5" stroke-dasharray="15 5"/>
<line x1="1472.4" x2="1472.4" y1="283.5" y2="872.7" stroke="#78e480" stroke-opacity="0.65" stroke-width="5" stroke-dasharray="15 5"/>
<rect x="1558.0" y="224.0" width="227.0" height="673.0" fill="#969696" fill-opacity="0.18"/>
<rect x="1164.3" y="780.3" width="411.6" height="86.5" fill="#dae3f3" filter="url(#sh)"/>
<text y="62.4" font-size="38.4" fill="#595959"><tspan x="290.64" textLength="138.30" lengthAdjust="spacingAndGlyphs">England</tspan> <tspan x="434.89" textLength="87.74" lengthAdjust="spacingAndGlyphs">UTLA</tspan> <tspan x="532.37" textLength="12.13" lengthAdjust="spacingAndGlyphs">-</tspan> <tspan x="554.84" textLength="60.08" lengthAdjust="spacingAndGlyphs">Top</tspan> <tspan x="623.73" textLength="41.14" lengthAdjust="spacingAndGlyphs">15</tspan> <tspan x="675.00" textLength="12.05" lengthAdjust="spacingAndGlyphs">-</tspan> <tspan x="696.57" textLength="20.55" lengthAdjust="spacingAndGlyphs">7</tspan> <tspan x="728.53" textLength="62.15" lengthAdjust="spacingAndGlyphs">Day</tspan> <tspan x="801.48" textLength="62.40" lengthAdjust="spacingAndGlyphs">Avg</tspan> <tspan x="872.94" textLength="31.03" lengthAdjust="spacingAndGlyphs">of</tspan> <tspan x="915.59" textLength="61.56" lengthAdjust="spacingAndGlyphs">+ve</tspan> <tspan x="983.41" textLength="85.45" lengthAdjust="spacingAndGlyphs">Tests</tspan> <tspan x="1077.06" textLength="52.72" lengthAdjust="spacingAndGlyphs">Per</tspan> <tspan x="1141.97" textLength="86.91" lengthAdjust="spacingAndGlyphs">100K</tspan> <tspan x="1236.60" textLength="37.23" lengthAdjust="spacingAndGlyphs">By</tspan> <tspan x="1284.63" textLength="168.92" lengthAdjust="spacingAndGlyphs">Specimen</tspan> <tspan x="1460.61" textLength="79.80" lengthAdjust="spacingAndGlyphs">Date</tspan></text>
<text y="34.8" font-size="25.4" fill="#a6a6a6" class="b"><tspan x="21.90" textLength="82.66" lengthAdjust="spacingAndGlyphs">18-Sep</tspan> <tspan x="110.50" textLength="76.74" lengthAdjust="spacingAndGlyphs">report</tspan> <tspan x="194.94" textLength="53.09" lengthAdjust="spacingAndGlyphs">data</tspan></text>
<text y="1009.9" font-size="21.0" fill="#a6a6a6" class="b"><tspan x="21.65" textLength="35.38" lengthAdjust="spacingAndGlyphs">Vac</tspan> <tspan x="63.49" textLength="46.11" lengthAdjust="spacingAndGlyphs">lines</tspan> <tspan x="114.12" textLength="48.92" lengthAdjust="spacingAndGlyphs">refer</tspan> <tspan x="169.93" textLength="20.43" lengthAdjust="spacingAndGlyphs">to</tspan> <tspan x="196.11" textLength="16.63" lengthAdjust="spacingAndGlyphs">%</tspan> <tspan x="217.73" textLength="20.69" lengthAdjust="spacingAndGlyphs">of</tspan> <tspan x="244.40" textLength="36.75" lengthAdjust="spacingAndGlyphs">65+</tspan> <tspan x="286.66" textLength="39.38" lengthAdjust="spacingAndGlyphs">first</tspan> <tspan x="331.06" textLength="57.37" lengthAdjust="spacingAndGlyphs">doses</tspan> <tspan x="393.97" textLength="39.62" lengthAdjust="spacingAndGlyphs">that</tspan> <tspan x="439.92" textLength="47.68" lengthAdjust="spacingAndGlyphs">have</tspan> <tspan x="493.65" textLength="43.53" lengthAdjust="spacingAndGlyphs">now</tspan> <tspan x="543.05" textLength="38.33" lengthAdjust="spacingAndGlyphs">had</tspan> <tspan x="586.89" textLength="37.34" lengthAdjust="spacingAndGlyphs">2nd</tspan> <tspan x="629.33" textLength="54.48" lengthAdjust="spacingAndGlyphs">dose.</tspan></text>
<text y="1009.9" font-size="26.0" fill="#a6a6a6" class="b"><tspan x="1343.50" textLength="53.82" lengthAdjust="spacingAndGlyphs">Data</tspan> <tspan x="1407.21" textLength="92.73" lengthAdjust="spacingAndGlyphs">Source:</tspan> <tspan x="1504.86" textLength="294.97" lengthAdjust="spacingAndGlyphs">coronavirus.data.gov.uk</tspan></text>
<text y="803.8" font-size="18.4" fill="#111111"><tspan x="1182.93" textLength="29.55" lengthAdjust="spacingAndGlyphs">The</tspan> <tspan x="1219.58" textLength="40.82" lengthAdjust="spacingAndGlyphs">&quot;lag&quot;</tspan> <tspan x="1265.30" textLength="56.35" lengthAdjust="spacingAndGlyphs">period</tspan> <tspan x="1328.37" textLength="12.16" lengthAdjust="spacingAndGlyphs">is</tspan> <tspan x="1346.73" textLength="26.89" lengthAdjust="spacingAndGlyphs">the</tspan> <tspan x="1378.71" textLength="46.30" lengthAdjust="spacingAndGlyphs">latest</tspan> <tspan x="1432.57" textLength="64.61" lengthAdjust="spacingAndGlyphs">approx.</tspan> <tspan x="1503.54" textLength="10.15" lengthAdjust="spacingAndGlyphs">4</tspan> <tspan x="1519.40" textLength="38.65" lengthAdjust="spacingAndGlyphs">days</tspan></text>
<text y="830.0" font-size="18.4" fill="#111111"><tspan x="1178.82" textLength="50.92" lengthAdjust="spacingAndGlyphs">which</tspan> <tspan x="1234.40" textLength="27.01" lengthAdjust="spacingAndGlyphs">are</tspan> <tspan x="1267.34" textLength="31.34" lengthAdjust="spacingAndGlyphs">still</tspan> <tspan x="1303.09" textLength="47.47" lengthAdjust="spacingAndGlyphs">being</tspan> <tspan x="1355.74" textLength="62.89" lengthAdjust="spacingAndGlyphs">actively</tspan> <tspan x="1425.77" textLength="80.46" lengthAdjust="spacingAndGlyphs">reported.</tspan> <tspan x="1512.89" textLength="49.71" lengthAdjust="spacingAndGlyphs">Drops</tspan></text>
<text y="856.1" font-size="18.4" fill="#111111"><tspan x="1192.78" textLength="16.50" lengthAdjust="spacingAndGlyphs">in</tspan> <tspan x="1215.46" textLength="33.23" lengthAdjust="spacingAndGlyphs">that</tspan> <tspan x="1254.15" textLength="55.15" lengthAdjust="spacingAndGlyphs">period</tspan> <tspan x="1316.12" textLength="27.02" lengthAdjust="spacingAndGlyphs">are</tspan> <tspan x="1349.16" textLength="34.68" lengthAdjust="spacingAndGlyphs">very</tspan> <tspan x="1390.67" textLength="44.07" lengthAdjust="spacingAndGlyphs">likely</tspan> <tspan x="1441.72" textLength="16.86" lengthAdjust="spacingAndGlyphs">to</tspan> <tspan x="1464.34" textLength="30.93" lengthAdjust="spacingAndGlyphs">still</tspan> <tspan x="1498.72" textLength="49.66" lengthAdjust="spacingAndGlyphs">grow.</tspan></text>
<text y="43.6" font-size="31.9" fill="#7f7f7f" class="b"><tspan x="1676.38" textLength="122.54" lengthAdjust="spacingAndGlyphs">@RP131</tspan></text>
<text y="1002.6" font-size="20.6" fill="#595959" class="b"><tspan x="834.14" textLength="103.78" lengthAdjust="spacingAndGlyphs">SPECIMEN</tspan> <tspan x="944.11" textLength="52.32" lengthAdjust="spacingAndGlyphs">DATE</tspan></text>
<text y="257.9" font-size="28.8" fill="#a6a6a6" class="b"><tspan x="1645.81" textLength="51.07" lengthAdjust="spacingAndGlyphs">LAG</tspan></text>
<text y="272.7" font-size="25.2" fill="#7f7f7f" class="b"><tspan x="214.97" textLength="73.73" lengthAdjust="spacingAndGlyphs">98.5%</tspan> <tspan x="295.06" textLength="43.44" lengthAdjust="spacingAndGlyphs">Vac</tspan></text>
<text y="272.7" font-size="25.2" fill="#7f7f7f" class="b"><tspan x="613.12" textLength="74.11" lengthAdjust="spacingAndGlyphs">98.5%</tspan> <tspan x="693.38" textLength="43.16" lengthAdjust="spacingAndGlyphs">Vac</tspan></text>
<text y="272.7" font-size="25.2" fill="#7f7f7f" class="b"><tspan x="1011.50" textLength="74.42" lengthAdjust="spacingAndGlyphs">98.5%</tspan> <tspan x="1091.96" textLength="43.40" lengthAdjust="spacingAndGlyphs">Vac</tspan></text>
<text y="272.7" font-size="25.2" fill="#7f7f7f" class="b"><tspan x="1409.97" textLength="73.73" lengthAdjust="spacingAndGlyphs">98.6%</tspan> <tspan x="1490.06" textLength="43.44" lengthAdjust="spacingAndGlyphs">Vac</tspan></text>
<g fill="none" stroke-width="5" stroke-linecap="round">
<line x1="230.50" x2="297.70" y1="108.5" y2="108.5" stroke="#a50026"/>
<line x1="604.70" x2="671.90" y1="108.5" y2="108.5" stroke="#00ff00"/>
<line x1="979.10" x2="1046.30" y1="108.5" y2="108.5" stroke="#333399"/>
<line x1="1353.50" x2="1420.70" y1="108.5" y2="108.5" stroke="#3333ff"/>
<line x1="230.50" x2="297.70" y1="138.5" y2="138.5" stroke="#00ffff"/>
<line x1="604.70" x2="671.90" y1="138.5" y2="138.5" stroke="#ffff00"/>
<line x1="979.10" x2="1046.30" y1="138.5" y2="138.5" stroke="#ff00ff"/>
<line x1="1353.50" x2="1420.70" y1="138.5" y2="138.5" stroke="#ff9900"/>
<line x1="230.50" x2="297.70" y1="168.5" y2="168.5" stroke="#ff0000"/>
<line x1="604.70" x2="671.90" y1="168.5" y2="168.5" stroke="#006400"/>
<line x1="979.10" x2="1046.30" y1="168.5" y2="168.5" stroke="#9c00a6"/>
<line x1="1353.50" x2="1420.70" y1="168.5" y2="168.5" stroke="#874300"/>
<line x1="230.50" x2="297.70" y1="198.5" y2="198.5" stroke="#009696"/>
<line x1="604.70" x2="671.90" y1="198.5" y2="198.5" stroke="#808080"/>
<line x1="979.10" x2="1046.30" y1="198.5" y2="198.5" stroke="#d9d9d9"/>
<line x1="1353.50" x2="1420.70" y1="198.5" y2="198.5" stroke="#000000" stroke-dasharray="10 10"/>
</g>
<g class="t" font-size="21.5">
<text x="305.0" y="115.5" textLength="95.5" lengthAdjust="spacingAndGlyphs">Blackpool</text>
<text x="679.2" y="115.5" textLength="135.3" lengthAdjust="spacingAndGlyphs">Leicestershire</text>
<text x="1054.4" y="115.5" textLength="83.2" lengthAdjust="spacingAndGlyphs">Barnsley</text>
<text x="1428.9" y="115.5" textLength="82.0" lengthAdjust="spacingAndGlyphs">Cumbria</text>
<text x="305.0" y="145.5" textLength="127.5" lengthAdjust="spacingAndGlyphs">Staffordshire</text>
<text x="679.2" y="145.5" textLength="131.3" lengthAdjust="spacingAndGlyphs">Cheshire East</text>
<text x="1054.4" y="145.5" textLength="99.7" lengthAdjust="spacingAndGlyphs">Doncaster</text>
<text x="1428.9" y="145.5" textLength="97.5" lengthAdjust="spacingAndGlyphs">St. Helens</text>
<text x="305.0" y="175.5" textLength="189.5" lengthAdjust="spacingAndGlyphs">Telford and Wrekin</text>
<text x="679.2" y="175.5" textLength="87.3" lengthAdjust="spacingAndGlyphs">Leicester</text>
<text x="1054.4" y="175.5" textLength="103.7" lengthAdjust="spacingAndGlyphs">Calderdale</text>
<text x="1428.9" y="175.5" textLength="110.5" lengthAdjust="spacingAndGlyphs">Rotherham</text>
<text x="305.0" y="205.5" textLength="180.5" lengthAdjust="spacingAndGlyphs">North Lincolnshire</text>
<text x="679.2" y="205.5" textLength="93.3" lengthAdjust="spacingAndGlyphs">Knowsley</text>
<text x="1054.4" y="205.5" textLength="148.7" lengthAdjust="spacingAndGlyphs">North Tyneside</text>
<text x="1428.9" y="205.5" textLength="76.0" lengthAdjust="spacingAndGlyphs">England</text>
</g>
</svg>
</body></html>
